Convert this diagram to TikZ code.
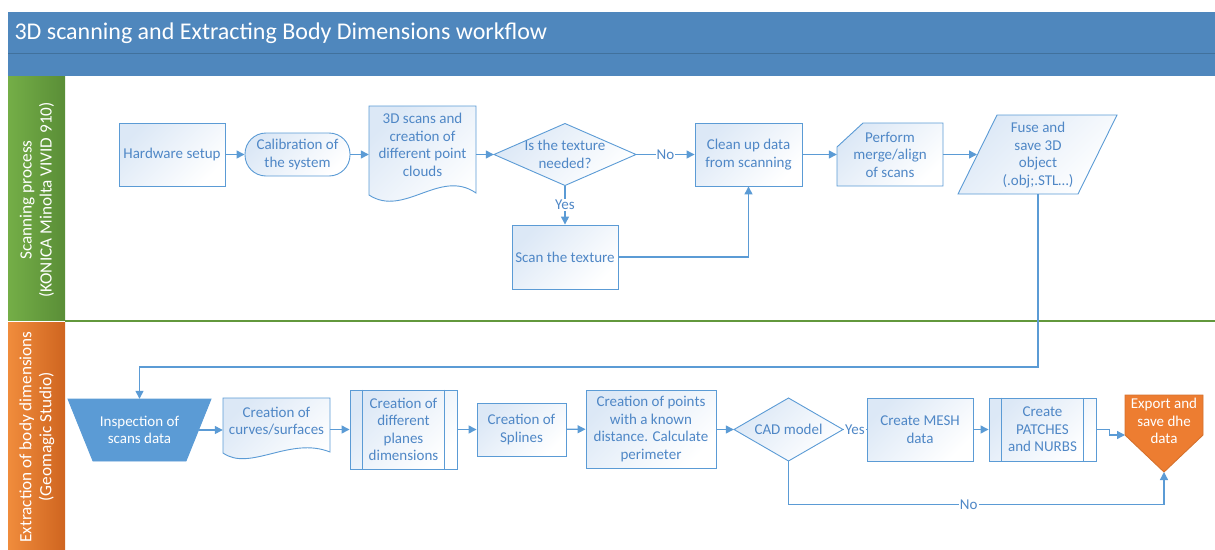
\documentclass[tikz,border=0pt]{standalone}
\usepackage{fontspec}
\setmainfont{Carlito}
\usetikzlibrary{arrows.meta,calc}

\definecolor{lineblue}{HTML}{5B9BD5}
\definecolor{textblue}{HTML}{4F87C6}
\definecolor{boxfill}{HTML}{DCE8F6}
\definecolor{titleblue}{HTML}{4F87BD}
\definecolor{titleline}{HTML}{41719C}
\definecolor{lanegreen}{HTML}{74AE47}
\definecolor{lanegreendk}{HTML}{5A8E37}
\definecolor{laneorange}{HTML}{F08C3C}
\definecolor{laneorangedk}{HTML}{CF6520}
\definecolor{exportorange}{HTML}{ED7D31}

\newcommand\nodefont{\fontsize{15}{17.5}\selectfont}
\newcommand\lanefont{\fontsize{17.2}{20}\selectfont}

\tikzset{
  shape fill/.style={draw=lineblue, line width=0.9pt, top color=boxfill, bottom color=white, shading angle=45},
  box/.style={shape fill, rectangle, text=textblue, align=center, font=\nodefont, inner sep=0pt},
  txt/.style={rectangle, text=textblue, align=center, font=\nodefont, inner sep=0pt},
  link/.style={draw=lineblue, line width=1.3pt, -{Triangle[length=8pt,width=8pt]}},
  lab/.style={fill=white, text=textblue, font=\nodefont, inner sep=1pt},
  lane/.style={rotate=90, text=white, align=center, font=\lanefont}
}

\begin{document}
\begin{tikzpicture}[x=1pt,y=-1pt]
\useasboundingbox (0,0) rectangle (1215,549);

\fill[titleblue] (8,12) rectangle (1215,76);
\draw[titleline, line width=1pt] (8,53) -- (1215,53);
\node[anchor=west, text=white, font=\fontsize{24}{28}\selectfont] (title) at (11,33) {3D scanning and Extracting Body Dimensions workflow};

\shade[left color=lanegreen, right color=lanegreendk] (8,76) rectangle (65,320);
\shade[left color=laneorange, right color=laneorangedk] (8,322) rectangle (65,549);
\draw[lanegreendk!70!lanegreen, line width=1.5pt] (65,321) -- (1215,321);
\node[lane] (scanlane) at (37,200) {Scanning process\\(KONICA Minolta VIVID 910)};
\node[lane] (extlane) at (37,437) {Extraction of body dimensions\\(Geomagic Studio)};

\path[shape fill] (369,106) -- (476,106) -- (476,193) .. controls (440,168) and (404,218) .. (369,195) -- cycle;
\path[shape fill] (494,154.5) -- (565,123.5) -- (636,154.5) -- (565,185.5) -- cycle;
\path[shape fill] (863,123) -- (943,123) -- (943,186) -- (837,186) -- (837,147) -- cycle;
\path[shape fill] (997,115) -- (1117,115) -- (1078,194) -- (958,194) -- cycle;
\path[draw=lineblue, line width=0.9pt, fill=lineblue] (68,399) -- (211,399) -- (186,461) -- (93,461) -- cycle;
\path[shape fill] (223,398) -- (330,398) -- (330,452) .. controls (290,436) and (250,472) .. (223,453) -- cycle;
\path[shape fill] (734,429.5) -- (788.5,398) -- (843,429.5) -- (788.5,461) -- cycle;
\path[draw=exportorange!90!black, line width=0.9pt, fill=exportorange] (1125,395) -- (1203,395) -- (1203,435) -- (1164,472) -- (1125,435) -- cycle;

\node[box, minimum width=106pt, minimum height=63pt] (hw) at (172,154.5) {Hardware setup};
\node[box, rounded corners=21pt, minimum width=105pt, minimum height=43pt] (cal) at (297.5,154.5) {Calibration of\\the system};
\node[txt, minimum width=107pt] (scans) at (422.5,145) {3D scans and\\creation of\\different point\\clouds};
\node[txt, minimum width=142pt, minimum height=62pt] (tex) at (565,154.5) {Is the texture\\needed?};
\node[box, minimum width=107pt, minimum height=63pt] (clean) at (748.5,154.5) {Clean up data\\from scanning};
\node[txt, minimum width=106pt, minimum height=63pt] (merge) at (890,154.5) {Perform\\merge/align\\of scans};
\node[txt] (fuse) at (1038,155) {Fuse and\\save 3D\\object\\(.obj;.STL…)};
\node[box, minimum width=106pt, minimum height=64pt] (tscan) at (565,257) {Scan the texture};
\coordinate (fusein) at (977,154.5);
\coordinate (fuseout) at (1038,194);

\node[txt, text=white, minimum width=118pt, minimum height=62pt] (insp) at (139.5,430) {Inspection of\\scans data};
\node[txt, minimum width=107pt] (curves) at (276.5,421) {Creation of\\curves/surfaces};
\node[box, minimum width=107pt, minimum height=79pt] (planes) at (403.5,429.5) {Creation of\\different\\planes\\dimensions};
\draw[lineblue, line width=0.9pt] ([xshift=13pt]planes.north west) -- ([xshift=13pt]planes.south west)
  ([xshift=-13pt]planes.north east) -- ([xshift=-13pt]planes.south east);
\node[box, minimum width=89pt, minimum height=53pt] (splines) at (521.5,429.5) {Creation of\\Splines};
\node[box, minimum width=130pt, minimum height=78pt] (points) at (651,429) {Creation of points\\with a known\\distance. Calculate\\perimeter};
\node[txt, minimum width=109pt, minimum height=63pt] (cad) at (788.5,429.5) {CAD model};
\node[box, minimum width=106pt, minimum height=63pt] (mesh) at (920,429.5) {Create MESH\\data};
\node[box, minimum width=107pt, minimum height=63pt] (patch) at (1042.5,429.5) {Create\\PATCHES\\and NURBS};
\draw[lineblue, line width=0.9pt] ([xshift=13pt]patch.north west) -- ([xshift=13pt]patch.south west)
  ([xshift=-13pt]patch.north east) -- ([xshift=-13pt]patch.south east);
\node[txt, text=white, minimum width=78pt] (export) at (1164,421) {Export and\\save dhe\\data};
\coordinate (expin) at (1125,435);
\coordinate (expbot) at (1164,472);

\draw[link] (hw) -- (cal);
\draw[link] (cal) -- (cal -| scans.west);
\draw[link] (scans.east |- tex) -- (tex);
\draw[link] (tex) -- node[lab] {No} (clean);
\draw[link] (tex) -- node[lab] {Yes} (tscan);
\draw[link] (tscan) -| (clean);
\draw[link] (clean) -- (merge);
\draw[link] (merge) -- (fusein);
\draw[link] (fuseout) -- ++(0,173) -| (insp.north);

\draw[link] (insp.east) -- (insp.east -| curves.west);
\draw[link] (curves.east |- planes) -- (planes);
\draw[link] (planes) -- (splines);
\draw[link] (splines) -- (points);
\draw[link] (points.east |- cad) -- (cad);
\draw[link, -] (cad) -- node[lab] {Yes} (mesh);
\draw[link] (mesh) -- (patch);
\draw[link] (patch.east) -- ++(13,0) |- (expin);
\draw[link] (cad.south) -- ++(0,43.5) -| node[lab, pos=0.24] {No} (expbot);
\end{tikzpicture}
\end{document}
